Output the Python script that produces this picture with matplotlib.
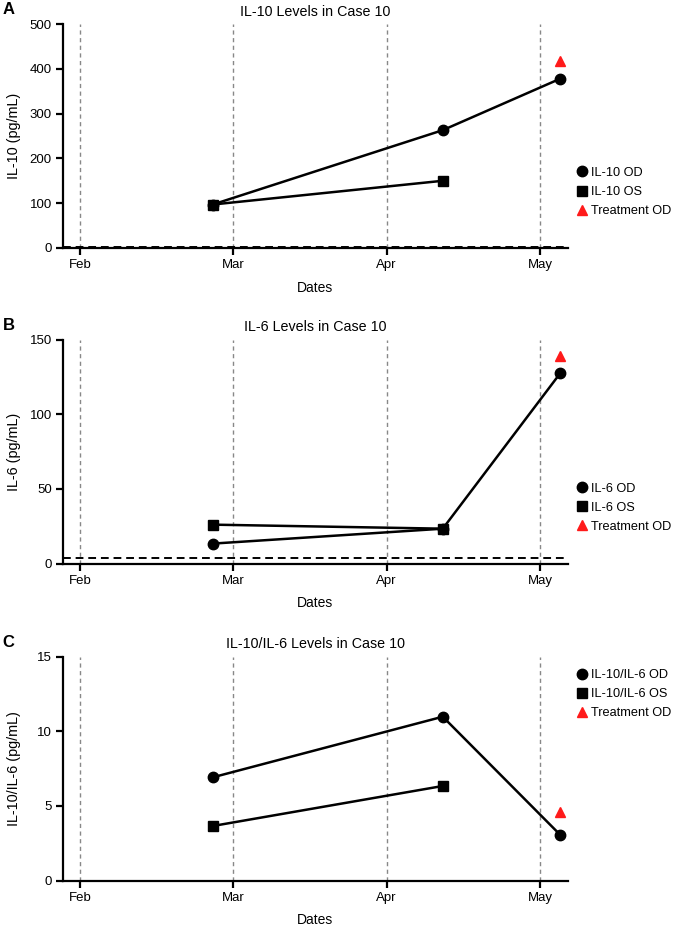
#!/usr/bin/env python
# -*- coding: utf-8 -*-
"""IL-10 / IL-6 levels over time for case 10, three stacked panels."""
import matplotlib
matplotlib.use('Agg')
from matplotlib import pyplot as plt
from matplotlib.lines import Line2D

plt.rcParams['font.family'] = ['Liberation Sans', 'DejaVu Sans']

# days counted from Feb 1 (month ticks equally spaced, 30 days apart)
month_pos = [0, 30, 60, 90]
month_lbl = ['Feb', 'Mar', 'Apr', 'May']
days = [26, 71, 94]
treat_day = [94]

il10_od = [97, 263, 378]
il10_os = [97, 150]
il10_treat = [418]

il6_od = [13.4, 23.4, 127.6]
il6_os = [26.1, 23.4]
il6_treat = [139]

ratio_od = [6.92, 10.98, 3.06]
ratio_os = [3.66, 6.34]
ratio_treat = [4.62]

panels = [
    dict(letter='A', title='IL-10 Levels in Case 10', ylabel='IL-10 (pg/mL)',
         od=il10_od, os=il10_os, tr=il10_treat, ymax=500, yticks=[0, 100, 200, 300, 400, 500],
         cutoff=2, names=['IL-10 OD', 'IL-10 OS'], leg_y=0.25, rect=[0.093, 0.7325, 0.746, 0.2416]),
    dict(letter='B', title='IL-6 Levels in Case 10', ylabel='IL-6 (pg/mL)',
         od=il6_od, os=il6_os, tr=il6_treat, ymax=150, yticks=[0, 50, 100, 150],
         cutoff=4, names=['IL-6 OD', 'IL-6 OS'], leg_y=0.25, rect=[0.093, 0.392, 0.746, 0.2416]),
    dict(letter='C', title='IL-10/IL-6 Levels in Case 10', ylabel='IL-10/IL-6 (pg/mL)',
         od=ratio_od, os=ratio_os, tr=ratio_treat, ymax=15, yticks=[0, 5, 10, 15],
         cutoff=None, names=['IL-10/IL-6 OD', 'IL-10/IL-6 OS'], leg_y=0.833, rect=[0.093, 0.050, 0.746, 0.2416]),
]

fig = plt.figure(figsize=(6.77, 9.27), dpi=100)

for p in panels:
    ax = fig.add_axes(p['rect'])
    for m in month_pos:
        ax.axvline(m, color='#888888', lw=1.0, ls=(0, (3, 2.5)), zorder=1)
    if p['cutoff'] is not None:
        ax.axhline(p['cutoff'], color='black', lw=1.4, ls=(0, (4, 2.5)), zorder=2)

    ax.plot(days, p['od'], color='black', lw=1.8, marker='o', ms=7.5, zorder=3)
    ax.plot(days[:len(p['os'])], p['os'], color='black', lw=1.8, marker='s', ms=7, zorder=4)
    ax.plot(treat_day, p['tr'], ls='none', marker='^', color='#ff1a1a', ms=7, zorder=4)

    ax.set_xlim(-3.3, 95.5)
    ax.set_ylim(0, p['ymax'])
    ax.set_xticks(month_pos)
    ax.set_xticklabels(month_lbl)
    ax.set_yticks(p['yticks'])
    for s in ['top', 'right']:
        ax.spines[s].set_visible(False)
    for s in ['left', 'bottom']:
        ax.spines[s].set_linewidth(1.6)
    ax.tick_params(direction='out', length=5, width=1.6, labelsize=9.5, pad=3)

    ax.set_title(p['title'], fontsize=10.3, pad=6)
    ax.set_ylabel(p['ylabel'], fontsize=10.4)
    ax.yaxis.set_label_coords(-0.084, 0.5)
    ax.set_xlabel('Dates', fontsize=10, labelpad=7)
    ax.text(-0.119, 1.03, p['letter'], transform=ax.transAxes, fontsize=12,
            fontweight='bold', ha='left', va='bottom')

    handles = [Line2D([], [], ls='none', marker='o', color='black', ms=7.5),
               Line2D([], [], ls='none', marker='s', color='black', ms=7),
               Line2D([], [], ls='none', marker='^', color='#ff1a1a', ms=7)]
    ax.legend(handles, p['names'] + ['Treatment OD'], loc='center left',
              bbox_to_anchor=(1.0, p['leg_y']), frameon=False, fontsize=9.2,
              handlelength=0.8, handletextpad=0.3, labelspacing=0.55, borderpad=0.2)

fig.savefig('out.png', dpi=100)
plt.close(fig)
